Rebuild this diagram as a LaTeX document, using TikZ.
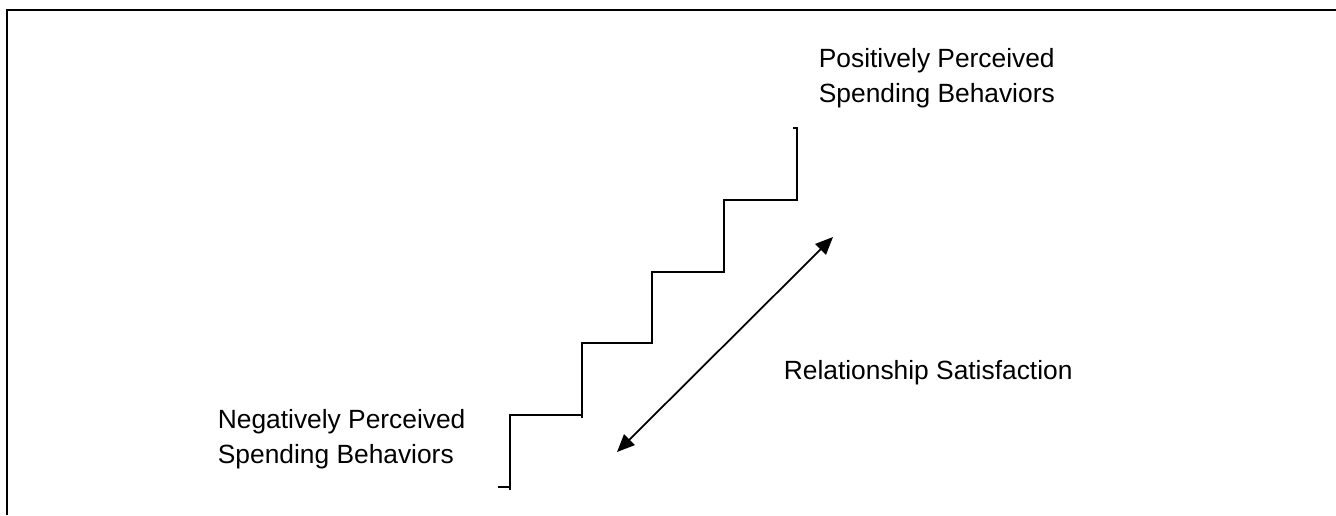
\documentclass[tikz,border=0pt]{standalone}
\usepackage{fontspec}
\setmainfont{Liberation Sans}
\usetikzlibrary{arrows.meta}
\tikzset{lbl/.style={anchor=north west,align=left,inner sep=0pt},
	stair/.style={line width=1.4pt,line cap=rect}}
\begin{document}
\begin{tikzpicture}[x=0.02cm,y=-0.02cm,line width=1pt,>={Triangle[length=10pt,width=8.5pt]},font=\fontsize{15}{19.8}\selectfont]
				\useasboundingbox (0,0) rectangle (1336,515);
				\draw[line width=1.6pt] (7,515)--(7,10)--(1336,10);
				\draw[stair] (499,487)--(510,487) (510,489)--(510,415)--(580,415) (582,417)--(582,343)--(652,343)--(652,272)--(724,272)--(724,200)--(797,200)--(797,128)--(794,128);
				\coordinate (low) at (617,452);
				\coordinate (high) at (833,237);
				\draw[<->] (low)--(high);
				\node[lbl] (pos) at (818,48) {Positively Perceived\\Spending Behaviors};
				\node[lbl] (neg) at (217,409) {Negatively Perceived\\Spending Behaviors};
				\node[lbl,anchor=base west] (rel) at (783,379) {Relationship Satisfaction};
			\end{tikzpicture}
\end{document}
